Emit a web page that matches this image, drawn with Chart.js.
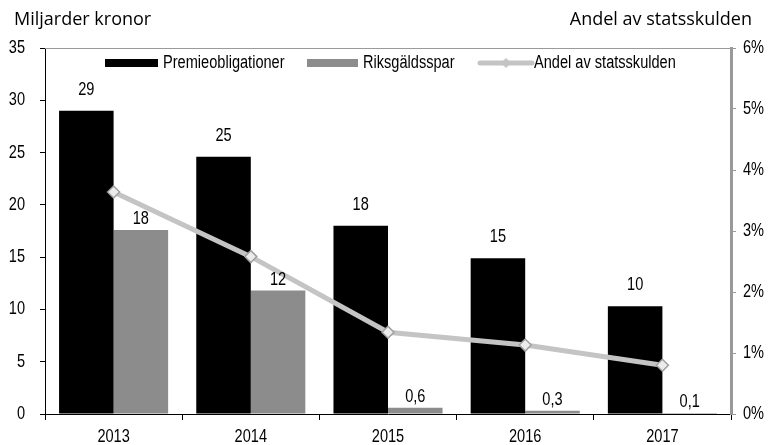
<!DOCTYPE html>
<html lang="sv">
  <head>
    <meta charset="UTF-8" />
    <title>Premieobligationer och Riksgäldsspar</title>
    <script src="https://cdn.jsdelivr.net/npm/chart.js@4"></script>
    <style>
      body {
        margin: 0;
        padding: 0;
        background-color: #ffffff;
      }
    </style>
  </head>
  <body>
    <canvas id="chart" width="778" height="445"></canvas>
    <script>
      const years = ["2013", "2014", "2015", "2016", "2017"];
      const premieobligationer = [29, 24.6, 18.0, 14.9, 10.3];
      const riksgaldsspar = [17.6, 11.8, 0.6, 0.3, 0.1];
      const andelAvStatsskulden = [3.64, 2.58, 1.34, 1.13, 0.8];
      const leftTicks = [0, 5, 10, 15, 20, 25, 30, 35];
      const rightTicks = [0, 1, 2, 3, 4, 5, 6];

      // no condensed face installed, so squeeze Liberation Sans sideways
      const narrowFont = '18px "Liberation Sans", Arial, sans-serif';
      const squeeze = 0.81;
      const titleFont = '18px "Open Sans", sans-serif';

      // Swedish style labels: integers above 1, one decimal with comma below
      function formatLabel(v) {
        if (v >= 1) return String(Math.round(v));
        return v.toFixed(1).replace(".", ",");
      }

      function narrowText(ctx, text, x, y, align) {
        ctx.save();
        ctx.font = narrowFont;
        ctx.textAlign = align;
        ctx.textBaseline = "middle";
        ctx.translate(x, y);
        ctx.scale(squeeze, 1);
        ctx.fillText(text, 0, 0);
        ctx.restore();
      }

      const labelOffsets = [21, 11];

      const barLabels = {
        id: "barLabels",
        afterDatasetsDraw(chart) {
          const ctx = chart.ctx;
          ctx.fillStyle = "#000";
          [0, 1].forEach((di) => {
            const meta = chart.getDatasetMeta(di);
            meta.data.forEach((bar, i) => {
              const v = chart.data.datasets[di].data[i];
              narrowText(ctx, formatLabel(v), bar.x, bar.y - labelOffsets[di], "center");
            });
          });
        },
      };

      // tick labels drawn from the scales' own ticks, in the narrow face
      const tickLabels = {
        id: "tickLabels",
        afterDraw(chart) {
          const ctx = chart.ctx;
          const a = chart.chartArea;
          ctx.fillStyle = "#000";
          const x = chart.scales.x;
          x.ticks.forEach((t, i) => {
            narrowText(ctx, x.getLabelForValue(t.value), x.getPixelForTick(i), a.bottom + 23, "center");
          });
          const y = chart.scales.y;
          y.ticks.forEach((t) => {
            narrowText(ctx, String(t.value), a.left - 20, y.getPixelForValue(t.value), "right");
          });
          const y1 = chart.scales.y1;
          y1.ticks.forEach((t) => {
            narrowText(ctx, t.value + "%", a.right + 12, y1.getPixelForValue(t.value), "left");
          });
        },
      };

      const frameAndLegend = {
        id: "frameAndLegend",
        afterDraw(chart) {
          const ctx = chart.ctx;
          const a = chart.chartArea;
          ctx.save();
          // top border
          ctx.strokeStyle = "#9a9a9a";
          ctx.lineWidth = 1;
          ctx.beginPath();
          ctx.moveTo(a.left, a.top + 0.5);
          ctx.lineTo(a.right, a.top + 0.5);
          ctx.stroke();

          // axis titles
          ctx.fillStyle = "#000";
          ctx.font = titleFont;
          ctx.textBaseline = "middle";
          ctx.textAlign = "left";
          ctx.fillText("Miljarder kronor", 14, 20);
          ctx.textAlign = "right";
          ctx.fillText("Andel av statsskulden", 752, 20);

          // legend
          const ly = a.top + 15;
          ctx.fillStyle = "#000000";
          ctx.fillRect(a.left + 60, ly - 4, 53, 8);
          narrowText(ctx, "Premieobligationer", a.left + 118, ly, "left");
          ctx.fillStyle = "#8c8c8c";
          ctx.fillRect(a.left + 262, ly - 4, 51, 8);
          ctx.fillStyle = "#000";
          narrowText(ctx, "Riksgäldsspar", a.left + 318, ly, "left");

          ctx.strokeStyle = "#c4c4c4";
          ctx.lineWidth = 5;
          ctx.lineCap = "round";
          ctx.beginPath();
          ctx.moveTo(a.left + 435, ly);
          ctx.lineTo(a.left + 487, ly);
          ctx.stroke();
          ctx.fillStyle = "#c4c4c4";
          ctx.beginPath();
          ctx.moveTo(a.left + 461, ly - 5);
          ctx.lineTo(a.left + 466, ly);
          ctx.lineTo(a.left + 461, ly + 5);
          ctx.lineTo(a.left + 456, ly);
          ctx.closePath();
          ctx.fill();
          ctx.fillStyle = "#000";
          narrowText(ctx, "Andel av statsskulden", a.left + 489, ly, "left");
          ctx.restore();
        },
      };

      const ctx = document.getElementById("chart").getContext("2d");
      new Chart(ctx, {
        data: {
          labels: years,
          datasets: [
            {
              type: "bar",
              label: "Premieobligationer",
              data: premieobligationer,
              backgroundColor: "#000000",
              yAxisID: "y",
              order: 1,
              barPercentage: 1,
              categoryPercentage: 0.795,
            },
            {
              type: "bar",
              label: "Riksgäldsspar",
              data: riksgaldsspar,
              backgroundColor: "#8c8c8c",
              yAxisID: "y",
              order: 1,
              barPercentage: 1,
              categoryPercentage: 0.795,
            },
            {
              type: "line",
              label: "Andel av statsskulden",
              data: andelAvStatsskulden,
              borderColor: "#c4c4c4",
              borderWidth: 5,
              tension: 0,
              pointStyle: "rectRot",
              pointRadius: 6,
              pointBackgroundColor: "#ececec",
              pointBorderColor: "#9f9f9f",
              pointBorderWidth: 1.5,
              yAxisID: "y1",
              order: 0,
            },
          ],
        },
        options: {
          responsive: false,
          animation: false,
          layout: {padding: {top: 48, left: 0, right: 0, bottom: 0}},
          plugins: {
            legend: {display: false},
            tooltip: {enabled: false},
          },
          scales: {
            x: {
              offset: true,
              afterFit: (s) => { s.height = 31; },
              grid: {
                offset: true,
                drawOnChartArea: false,
                tickLength: 6,
                color: "#000",
              },
              border: {color: "#000", width: 1},
              ticks: {display: false},
            },
            y: {
              position: "left",
              min: 0,
              max: 35,
              afterFit: (s) => { s.width = 45; },
              afterBuildTicks: (s) => {
                s.ticks = leftTicks.map((v) => ({value: v}));
              },
              grid: {drawOnChartArea: false, tickLength: 5, color: "#000"},
              border: {color: "#000", width: 1},
              ticks: {display: false},
            },
            y1: {
              position: "right",
              min: 0,
              max: 6,
              afterFit: (s) => { s.width = 47; },
              afterBuildTicks: (s) => {
                s.ticks = rightTicks.map((v) => ({value: v}));
              },
              grid: {drawOnChartArea: false, tickLength: 5, color: "#999999"},
              border: {color: "#999999", width: 3},
              ticks: {display: false},
            },
          },
        },
        plugins: [barLabels, tickLabels, frameAndLegend],
      });
    </script>
  </body>
</html>
